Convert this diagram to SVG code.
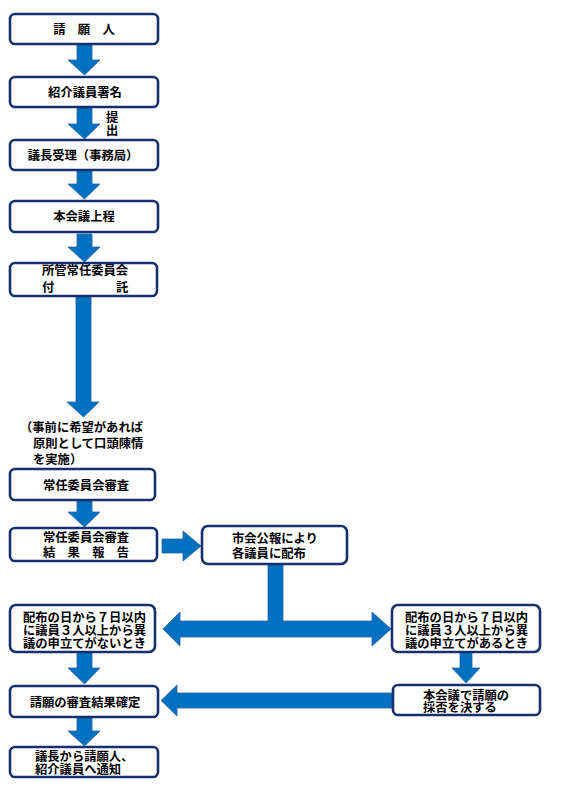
<svg xmlns="http://www.w3.org/2000/svg" width="572" height="800" viewBox="0 0 572 800">
<style>
.box{fill:#fff;stroke:#15306E;stroke-width:2.6}
.arr{fill:#0070C0;stroke:#2A62A8;stroke-width:0.8}
text{font-family:"Noto Sans CJK JP","Noto Sans CJK SC",sans-serif;font-weight:bold;font-size:12.3px;fill:#000}
.c{text-anchor:middle}
</style>
<rect width="572" height="800" fill="#fff"/>
<g id="connectors">
<polygon class="arr" points="77,45 92,45 92,60 100,60 84.5,75 68,60 77,60"/>
<polygon class="arr" points="77,108 92,108 92,124 100,124 84.5,139 68,124 77,124"/>
<polygon class="arr" points="77,171 92,171 92,184 100,184 84.5,199 68,184 77,184"/>
<polygon class="arr" points="77,234 92,234 92,247 100,247 84.5,262 68,247 77,247"/>
<polygon class="arr" points="76,297 91,297 91,402 99,402 83.5,417 67,402 76,402"/>
<polygon class="arr" points="77,501 92,501 92,512 100,512 84.5,527 68,512 77,512"/>
<polygon class="arr" points="162,539 183,539 183,531 201,546 183,561 183,553 162,553"/>
<polygon class="arr" points="268,565 283,565 283,621 372,621 372,612 391,629 372,646 372,637 180,637 180,646 163,629 180,612 180,621 268,621"/>
<polygon class="arr" points="77,653 92,653 92,668 100,668 84.5,684 68,668 77,668"/>
<polygon class="arr" points="460,653 472,653 472,668 480,668 466,683 452,668 460,668"/>
<polygon class="arr" points="392,693 177,693 177,685 161,700.5 177,716 177,708 392,708"/>
<polygon class="arr" points="77,718 92,718 92,731 100,731 84.5,746 68,731 77,731"/>
</g>
<g id="n1"><rect class="box" x="10" y="14" width="148" height="30" rx="5"/><text class="c" x="84" y="33.5">請　願　人</text></g>
<g id="n2"><rect class="box" x="10" y="77" width="148" height="30" rx="5"/><text class="c" x="85" y="96.5">紹介議員署名</text></g>
<text x="106" y="122">提</text>
<text x="106" y="135">出</text>
<g id="n3"><rect class="box" x="10" y="140" width="148" height="30" rx="5"/><text class="c" x="83" y="159.5">議長受理（事務局）</text></g>
<g id="n4"><rect class="box" x="10" y="201" width="148" height="31" rx="5"/><text class="c" x="84" y="221">本会議上程</text></g>
<g id="n5"><rect class="box" x="10" y="263" width="147" height="33" rx="5"/><text x="42" y="275">所管常任委員会</text><text x="42" y="292">付</text><text x="116" y="292">託</text></g>
<g id="n6"><text x="20" y="432">（事前に希望があれば</text><text x="33" y="448">原則として口頭陳情</text><text x="33" y="464">を実施）</text></g>
<g id="n7"><rect class="box" x="10" y="469" width="145" height="31" rx="5"/><text class="c" x="86" y="489.5">常任委員会審査</text></g>
<g id="n8"><rect class="box" x="10" y="528" width="147" height="33" rx="5"/><text x="43" y="541.5">常任委員会審査</text><text x="43" y="557">結　果　報　告</text></g>
<g id="n9"><rect class="box" x="202" y="526" width="145" height="38" rx="6"/><text x="232" y="542.5">市会公報により</text><text x="232" y="558">各議員に配布</text></g>
<g id="n10"><rect class="box" x="10" y="605" width="145" height="47" rx="6"/><text x="23" y="621.5">配布の日から７日以内</text><text x="23" y="634.5">に議員３人以上から異</text><text x="23" y="647.5">議の申立てがないとき</text></g>
<g id="n11"><rect class="box" x="392" y="605" width="148" height="47" rx="6"/><text x="405" y="621.5">配布の日から７日以内</text><text x="405" y="634.5">に議員３人以上から異</text><text x="405" y="647.5">議の申立てがあるとき</text></g>
<g id="n12"><rect class="box" x="10" y="686" width="148" height="31" rx="5"/><text class="c" x="85" y="706.5">請願の審査結果確定</text></g>
<g id="n13"><rect class="box" x="393" y="685" width="147" height="30" rx="5"/><text x="423" y="699.5">本会議で請願の</text><text x="423" y="712">採否を決する</text></g>
<g id="n14"><rect class="box" x="10" y="747" width="148" height="30" rx="5"/><text x="35" y="760.5">議長から請願人、</text><text x="35" y="774">紹介議員へ通知</text></g>
</svg>
